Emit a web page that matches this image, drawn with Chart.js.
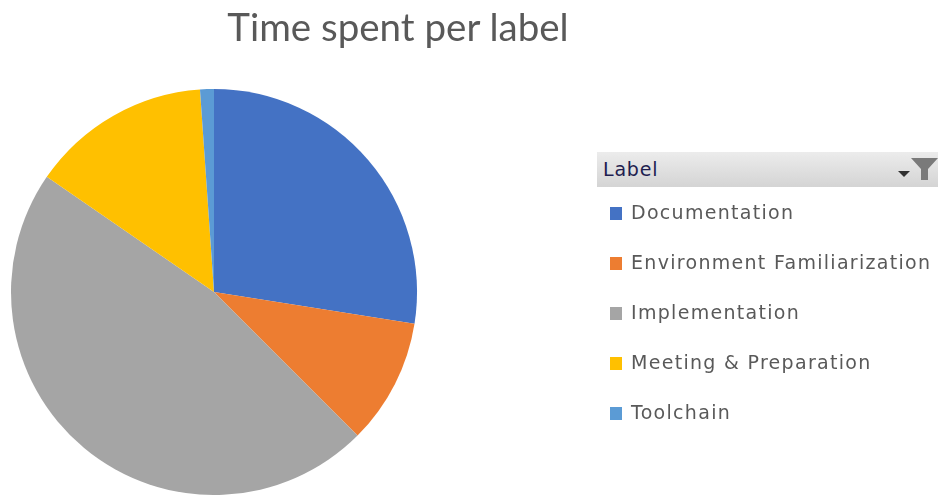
<!DOCTYPE html>
<html>
<head>
<meta charset="utf-8">
<script src="https://cdn.jsdelivr.net/npm/chart.js@4"></script>
<style>
  html, body { margin: 0; padding: 0; background: #fff; }
  #wrap { position: relative; width: 938px; height: 495px; overflow: hidden; }
  #pieCan { position: absolute; left: 0; top: 0; }
  #title {
    position: absolute; left: 0; width: 796px; top: 3px; text-align: center;
    font-family: Lato, "Open Sans", sans-serif; font-size: 38.5px; color: #595959;
  }
  #legendBox { position: absolute; left: 597px; top: 152px; width: 341px; }
  #legendHead {
    height: 35px; box-sizing: border-box;
    background: linear-gradient(#ececec, #d4d4d4);
    font-family: "DejaVu Sans", sans-serif; font-size: 19px; letter-spacing: 0.8px; color: #1e1e50;
    line-height: 35px; padding-left: 6px; position: relative;
  }
  #legendHead svg { position: absolute; right: 0; top: 5px; }
  .item {
    position: absolute; left: 13px; height: 24px;
    font-family: "DejaVu Sans", sans-serif; font-size: 19px; letter-spacing: 1.3px; color: #595959;
    line-height: 24px; white-space: nowrap;
  }
  .item span {
    display: inline-block; width: 12px; height: 13px; margin-right: 9px;
    vertical-align: -1px;
  }
</style>
</head>
<body>
<div id="wrap">
  <canvas id="pieCan" width="938" height="495"></canvas>
  <div id="title">Time spent per label</div>
  <div id="legendBox">
    <div id="legendHead">Label
      <svg width="42" height="26" viewBox="0 0 42 26">
        <polygon points="2,14 14,14 8,20" fill="#303030"/>
        <polygon points="15,1 42,1 32,12 32,23 25,23 25,12" fill="#7a7a7a"/>
      </svg>
    </div>
  </div>
</div>
<script>
// hours booked per label
const labels = ['Documentation', 'Environment Familiarization', 'Implementation', 'Meeting & Preparation', 'Toolchain']
const hours = [27.5, 10.0, 47.1, 14.3, 1.1]
const colors = ['#4472C4', '#ED7D31', '#A5A5A5', '#FFC000', '#5B9BD5']

document.addEventListener('DOMContentLoaded', () => {
  const canvasEl = document.getElementById('pieCan')

  new Chart(canvasEl, {
    type: 'pie',
    data: {
      labels: labels,
      datasets: [{
        data: hours,
        backgroundColor: colors,
        borderWidth: 0
      }]
    },
    options: {
      responsive: false,
      animation: false,
      layout: { padding: { left: 11, right: 521, top: 89, bottom: 0 } },
      plugins: {
        legend: { display: false },
        tooltip: { enabled: false }
      }
    }
  })

  // pivot-style legend on the right
  const box = document.getElementById('legendBox')
  labels.forEach((name, i) => {
    const row = document.createElement('div')
    row.className = 'item'
    row.style.top = (48 + i * 50) + 'px'
    const sw = document.createElement('span')
    sw.style.background = colors[i]
    row.appendChild(sw)
    row.appendChild(document.createTextNode(name))
    box.appendChild(row)
  })
})
</script>
</body>
</html>
